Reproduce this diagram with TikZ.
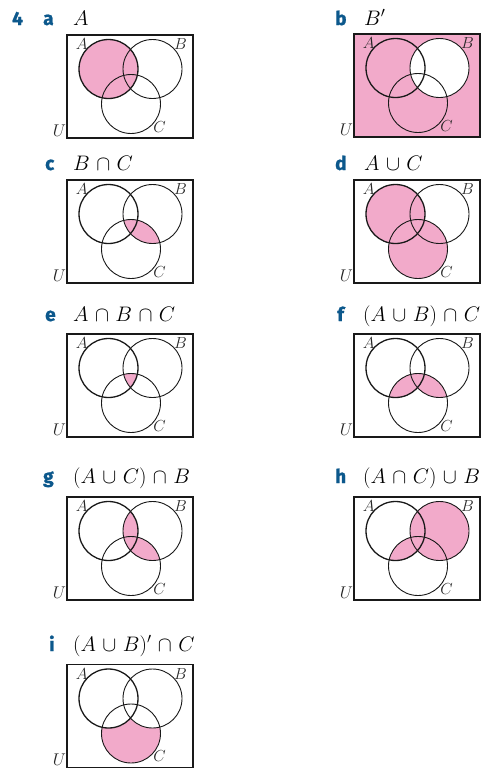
\RequirePackage{fix-cm}
\documentclass[tikz,border=0pt]{standalone}
\usepackage{fontspec}
\setsansfont{Fira Sans}[BoldFeatures={FakeBold=1.2}]
\definecolor{vpink}{RGB}{242,170,202}
\definecolor{vblue}{RGB}{12,88,140}
\def\R{29.5pt}
\newcommand\widerops{\medmuskip=5.5mu\relax}
\tikzset{
  vset/.style={line width=0.9pt, draw=black!90},
  vsetA/.style={line width=1.3pt, draw=black!90},
  vbox/.style={line width=1.1pt, draw=black!90},
  vlab/.style={inner sep=0pt, text=black!85, font=\fontsize{16}{16}\selectfont},
  ulab/.style={inner sep=0pt, text=black!85, font=\fontsize{17}{17}\selectfont},
  qnum/.style={inner sep=0pt, anchor=base west, text=vblue, font=\sffamily\bfseries\fontsize{19}{19}\selectfont},
  qexpr/.style={inner sep=0pt, anchor=base west, font=\fontsize{21}{21}\selectfont\widerops},
}
\newcommand\vennpanel[4]{%
  \begin{scope}[shift={(#2,#3)}]
    \coordinate (cA) at (41.5,34);
    \coordinate (cB) at (85.5,34);
    \coordinate (cC) at (64,69);
    #4
    \draw[vbox] (0,0) rectangle (126,103);
    \draw[vset] (cB) circle[radius=\R];
    \draw[vset] (cC) circle[radius=\R];
    \draw[vsetA] (cA) circle[radius=\R];
    \node[vlab] (#1la) at (14.7,9.5) {$A$};
    \node[vlab] (#1lb) at (113.5,9.5) {$B$};
    \node[vlab] (#1lc) at (92.5,91.7) {$C$};
    \node[ulab] (#1lu) at (-7.5,95.5) {$U$};
  \end{scope}}
\begin{document}
\begin{tikzpicture}[x=1pt,y=-1pt]
\useasboundingbox (0,0) rectangle (481,769);
% titles
\node[qnum] (n4) at (12,25) {4};
\node[qnum] (ta) at (43,25) {a};
\node[qexpr] (ea) at (73,25) {$A$};
\node[qnum] (tb) at (335,25) {b};
\node[qexpr] (eb) at (364,25) {$B'$};
\node[qnum] (tc) at (45,170) {c};
\node[qexpr] (ec) at (73,170) {$B\cap C$};
\node[qnum] (td) at (335,170) {d};
\node[qexpr] (ed) at (364,170) {$A\cup C$};
\node[qnum] (te) at (45,321) {e};
\node[qexpr] (ee) at (73,321) {$A\cap B\cap C$};
\node[qnum] (tf) at (337,321) {f};
\node[qexpr] (ef) at (363,321) {$(A\cup B)\cap C$};
\node[qnum] (tg) at (43,483) {g};
\node[qexpr] (eg) at (73,483) {$(A\cup C)\cap B$};
\node[qnum] (th) at (335,483) {h};
\node[qexpr] (eh) at (363,483) {$(A\cap C)\cup B$};
\node[qnum] (ti) at (49,651) {i};
\node[qexpr] (ei) at (73,651) {$(A\cup B)'\cap C$};
% panels
\vennpanel{a}{67}{35}{\fill[vpink] (cA) circle[radius=\R];}
\vennpanel{b}{354}{34}{\fill[vpink] (0,0) rectangle (126,103);
  \fill[white] (cB) circle[radius=\R];}
\vennpanel{c}{67}{180}{\begin{scope}\clip (cB) circle[radius=\R];
  \fill[vpink] (cC) circle[radius=\R];\end{scope}}
\vennpanel{d}{354}{180}{\fill[vpink] (cA) circle[radius=\R];
  \fill[vpink] (cC) circle[radius=\R];}
\vennpanel{e}{67}{334}{\begin{scope}\clip (cB) circle[radius=\R];
  \clip (cC) circle[radius=\R];
  \fill[vpink] (cA) circle[radius=\R];\end{scope}}
\vennpanel{f}{354}{334}{\begin{scope}\clip (cC) circle[radius=\R];
  \fill[vpink] (cA) circle[radius=\R];
  \fill[vpink] (cB) circle[radius=\R];\end{scope}}
\vennpanel{g}{67}{497}{\begin{scope}\clip (cB) circle[radius=\R];
  \fill[vpink] (cA) circle[radius=\R];
  \fill[vpink] (cC) circle[radius=\R];\end{scope}}
\vennpanel{h}{354}{497}{\fill[vpink] (cB) circle[radius=\R];
  \begin{scope}\clip (cA) circle[radius=\R];
  \fill[vpink] (cC) circle[radius=\R];\end{scope}}
\vennpanel{i}{67}{664.5}{\begin{scope}\clip (cC) circle[radius=\R];
  \fill[vpink] (cC) circle[radius=\R];
  \fill[white] (cA) circle[radius=\R];
  \fill[white] (cB) circle[radius=\R];\end{scope}}
\end{tikzpicture}
\end{document}
